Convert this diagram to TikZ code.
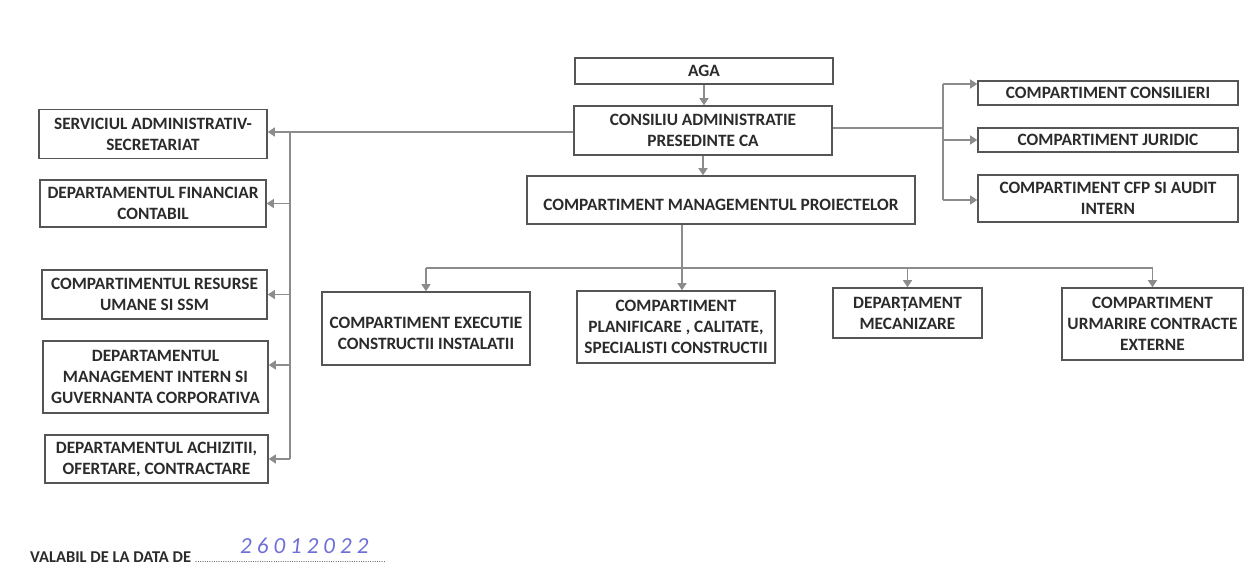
\documentclass[tikz,border=0pt]{standalone}
\usepackage{fontspec}
\setmainfont{Carlito}
\usetikzlibrary{arrows.meta}
\definecolor{boxline}{HTML}{555555}
\definecolor{conn}{HTML}{8C8C8C}
\definecolor{txt}{HTML}{2B2B2B}
\definecolor{ink}{HTML}{6F6FD8}
\tikzset{
  box/.style={draw=boxline, line width=1.6pt, rectangle, align=center, inner sep=0pt,
    text=txt, font=\fontsize{17.3}{21}\selectfont\bfseries},
  link/.style={draw=conn, line width=1.1pt},
  arr/.style={link, -{Triangle[length=7pt,width=9pt]}, conn},
}
\begin{document}
\begin{tikzpicture}[x=1pt,y=-1pt]
\useasboundingbox[fill=white] (0,0) rectangle (1244,569);

% top chain
\node[box, minimum width=258pt, minimum height=26pt] (aga) at (704,71) {AGA};
\node[box, minimum width=258pt, minimum height=49pt] (cons) at (703,130.5) {CONSILIU ADMINISTRATIE\\PRESEDINTE CA};
\node[box, minimum width=388pt, minimum height=48pt] (cmp) at (721,200) {\mbox{}\\COMPARTIMENT MANAGEMENTUL PROIECTELOR};

% left column
\node[box, minimum width=228pt, minimum height=49pt] (serv) at (153,134) {SERVICIUL ADMINISTRATIV-\\SECRETARIAT};
\node[box, minimum width=226pt, minimum height=47pt] (fin) at (153,203.5) {DEPARTAMENTUL FINANCIAR\\CONTABIL};
\node[box, minimum width=225pt, minimum height=49pt] (res) at (154.5,294.5) {COMPARTIMENTUL RESURSE\\UMANE SI SSM};
\node[box, minimum width=225pt, minimum height=72pt] (mgi) at (155.5,377) {DEPARTAMENTUL\\MANAGEMENT INTERN SI\\GUVERNANTA CORPORATIVA};
\node[box, minimum width=223pt, minimum height=48pt] (ach) at (156.5,459) {DEPARTAMENTUL ACHIZITII,\\OFERTARE, CONTRACTARE};

% right column
\node[box, minimum width=260pt, minimum height=24pt] (cons2) at (1108,93) {COMPARTIMENT CONSILIERI};
\node[box, minimum width=260pt, minimum height=24pt] (jur) at (1108,140) {COMPARTIMENT JURIDIC};
\node[box, minimum width=260pt, minimum height=47pt] (cfp) at (1108,198.5) {COMPARTIMENT CFP SI AUDIT\\INTERN};

% bottom row
\node[box, minimum width=208pt, minimum height=73pt] (exe) at (426,328.5) {\mbox{}\\COMPARTIMENT EXECUTIE\\CONSTRUCTII INSTALATII};
\node[box, minimum width=198pt, minimum height=72pt] (pla) at (676,327) {COMPARTIMENT\\PLANIFICARE , CALITATE,\\SPECIALISTI CONSTRUCTII};
\node[box, minimum width=149pt, minimum height=50pt] (mec) at (907.5,313) {DEPARȚAMENT\\MECANIZARE};
\node[box, minimum width=181pt, minimum height=72pt] (urm) at (1152.5,324) {COMPARTIMENT\\URMARIRE CONTRACTE\\EXTERNE};

% junction points
\coordinate (lj) at (290,132);
\coordinate (rj) at (943,128);
\coordinate (bj) at (682,268);

% top chain connectors
\draw[arr] (aga.south) -- (aga.south |- cons.north);
\draw[arr] (cons.south) -- (cons.south |- cmp.north);

% left branch
\draw[link] (cons.west |- lj) -- (lj) -- (lj |- ach.east);
\draw[arr] (lj) -- (serv.east |- lj);
\draw[arr] (lj |- fin.east) -- (fin.east);
\draw[arr] (lj |- res.east) -- (res.east);
\draw[arr] ([yshift=12pt]lj |- mgi.east) -- ([yshift=12pt]mgi.east);
\draw[arr] (lj |- ach.east) -- (ach.east);

% right branch
\draw[link] (cons.east |- rj) -- (rj);
\draw[link] (rj |- 0,84) -- (rj |- 0,200);
\draw[arr] (rj |- 0,84) -- (cons2.west |- 0,84);
\draw[arr] (rj |- jur.west) -- (jur.west);
\draw[arr] (rj |- 0,200) -- (cfp.west |- 0,200);

% bottom branch
\draw[link] (cmp.south -| bj) -- (bj);
\draw[link] (exe.north |- bj) -- (urm.north |- bj);
\draw[arr] (exe.north |- bj) -- (exe.north);
\draw[arr] (bj) -- (pla.north -| bj);
\draw[arr] (mec.north |- bj) -- (mec.north);
\draw[arr] (urm.north |- bj) -- (urm.north);

% footer
\node[anchor=base west, inner sep=0pt, text=txt, font=\fontsize{16.5}{18}\selectfont\bfseries] (foot) at (30,562) {VALABIL DE LA DATA DE\kern4pt\hbox to 191pt{\fontsize{8}{9}\selectfont\mdseries\leaders\hbox to 2.3pt{\hss.\hss}\hfill}};
\node[anchor=base west, inner sep=0pt, text=ink, font=\fontsize{23}{26}\selectfont\itshape] (date) at (240,553) {2\kern5pt 6\kern5pt 0\kern5pt 1\kern5pt 2\kern5pt 0\kern5pt 2\kern5pt 2};
\end{tikzpicture}
\end{document}
